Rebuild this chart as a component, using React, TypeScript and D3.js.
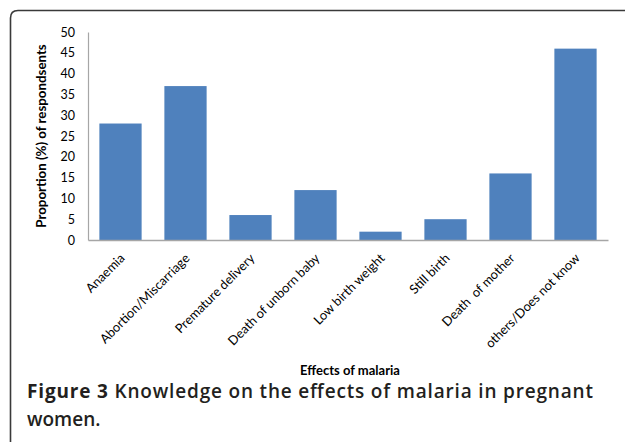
import {useEffect, useRef} from 'react';
import * as d3 from 'd3';

const categories = [
    'Anaemia',
    'Abortion/Miscarriage',
    'Premature delivery',
    'Death of unborn baby',
    'Low birth weight',
    'Still birth',
    'Death  of mother',
    'others/Does not know',
];
const proportions = [28, 37, 6, 12, 2, 5, 16, 46];
const yTicks = [0, 5, 10, 15, 20, 25, 30, 35, 40, 45, 50];

const W = 625;
const H = 442;
const chartFont = 'Lato, "Open Sans", sans-serif';
const captionFont = '"Open Sans", "Noto Sans", sans-serif';

const App = () => {
    const ref = useRef<SVGSVGElement>(null);

    useEffect(() => {
        const margin = {top: 32, left: 88, right: 17, bottom: 202};
        const svg = d3.select(ref.current);
        svg.selectAll('*').remove();

        const x = d3.scaleBand()
            .domain(categories)
            .range([margin.left, W - margin.right])
            .paddingInner(0.35)
            .paddingOuter(0.175);

        const y = d3.scaleLinear()
            .domain([0, 50])
            .range([H - margin.bottom, margin.top]);

        // frame with rounded corner
        svg.append('path')
            .attr('d', `M10.5,${H} L10.5,18 Q10.5,10.5 18,10.5 L${W},10.5`)
            .attr('fill', 'none')
            .attr('stroke', '#3a3a3a')
            .attr('stroke-width', 1.6);

        // bars
        svg.append('g')
            .selectAll('rect')
            .data(proportions)
            .enter().append('rect')
            .attr('x', (_, i) => x(categories[i])!)
            .attr('y', d => y(d))
            .attr('width', x.bandwidth())
            .attr('height', d => y(0) - y(d))
            .attr('fill', '#4f81bd');

        // axes
        const yAxis = d3.axisLeft(y).tickValues(yTicks).tickSize(0).tickPadding(13);
        const gy = svg.append('g')
            .attr('transform', `translate(${margin.left},0)`)
            .call(yAxis);
        gy.select('.domain').attr('stroke', '#a6a6a6').attr('stroke-width', 1.2);
        gy.selectAll('text')
            .style('font-family', chartFont)
            .style('font-size', '12.5px')
            .attr('fill', '#000');

        const xAxis = d3.axisBottom(x).tickSize(0).tickPadding(0);
        const gx = svg.append('g')
            .attr('transform', `translate(0,${y(0)})`)
            .call(xAxis);
        gx.select('.domain').attr('stroke', '#a6a6a6').attr('stroke-width', 1.5);
        gx.selectAll('text')
            .style('font-family', chartFont)
            .style('font-size', '12.8px')
            .attr('fill', '#000')
            .attr('text-anchor', 'end')
            .attr('dy', '0')
            .attr('transform', 'translate(5,19) rotate(-45)')
            .attr('xml:space', 'preserve');

        // axis titles
        svg.append('text')
            .attr('transform', `translate(46,${(y(0) + y(50)) / 2}) rotate(-90)`)
            .attr('text-anchor', 'middle')
            .style('font-family', chartFont)
            .style('font-size', '13.3px')
            .style('font-weight', 'bold')
            .text('Proportion (%) of respondsents');

        svg.append('text')
            .attr('x', 350)
            .attr('y', 375)
            .attr('text-anchor', 'middle')
            .style('font-family', chartFont)
            .style('font-size', '13px')
            .style('font-weight', 'bold')
            .text('Effects of malaria');

        // caption
        const cap = svg.append('text')
            .attr('x', 27)
            .attr('y', 398)
            .attr('textLength', 566)
            .attr('lengthAdjust', 'spacing')
            .style('font-family', captionFont)
            .style('font-size', '19px')
            .attr('fill', '#231f20');
        cap.append('tspan').style('font-weight', 'bold').text('Figure 3');
        cap.append('tspan').style('font-weight', '600').text(' Knowledge on the effects of malaria in pregnant');

        svg.append('text')
            .attr('x', 27)
            .attr('y', 426)
            .style('font-family', captionFont)
            .style('font-size', '19px')
            .style('font-weight', '600')
            .attr('fill', '#231f20')
            .text('women.');
    }, []);

    return (
        <svg ref={ref} width={W} height={H}
             style={{position: 'absolute', left: 0, top: 0, background: '#fff'}}/>
    );
};

export default App;
